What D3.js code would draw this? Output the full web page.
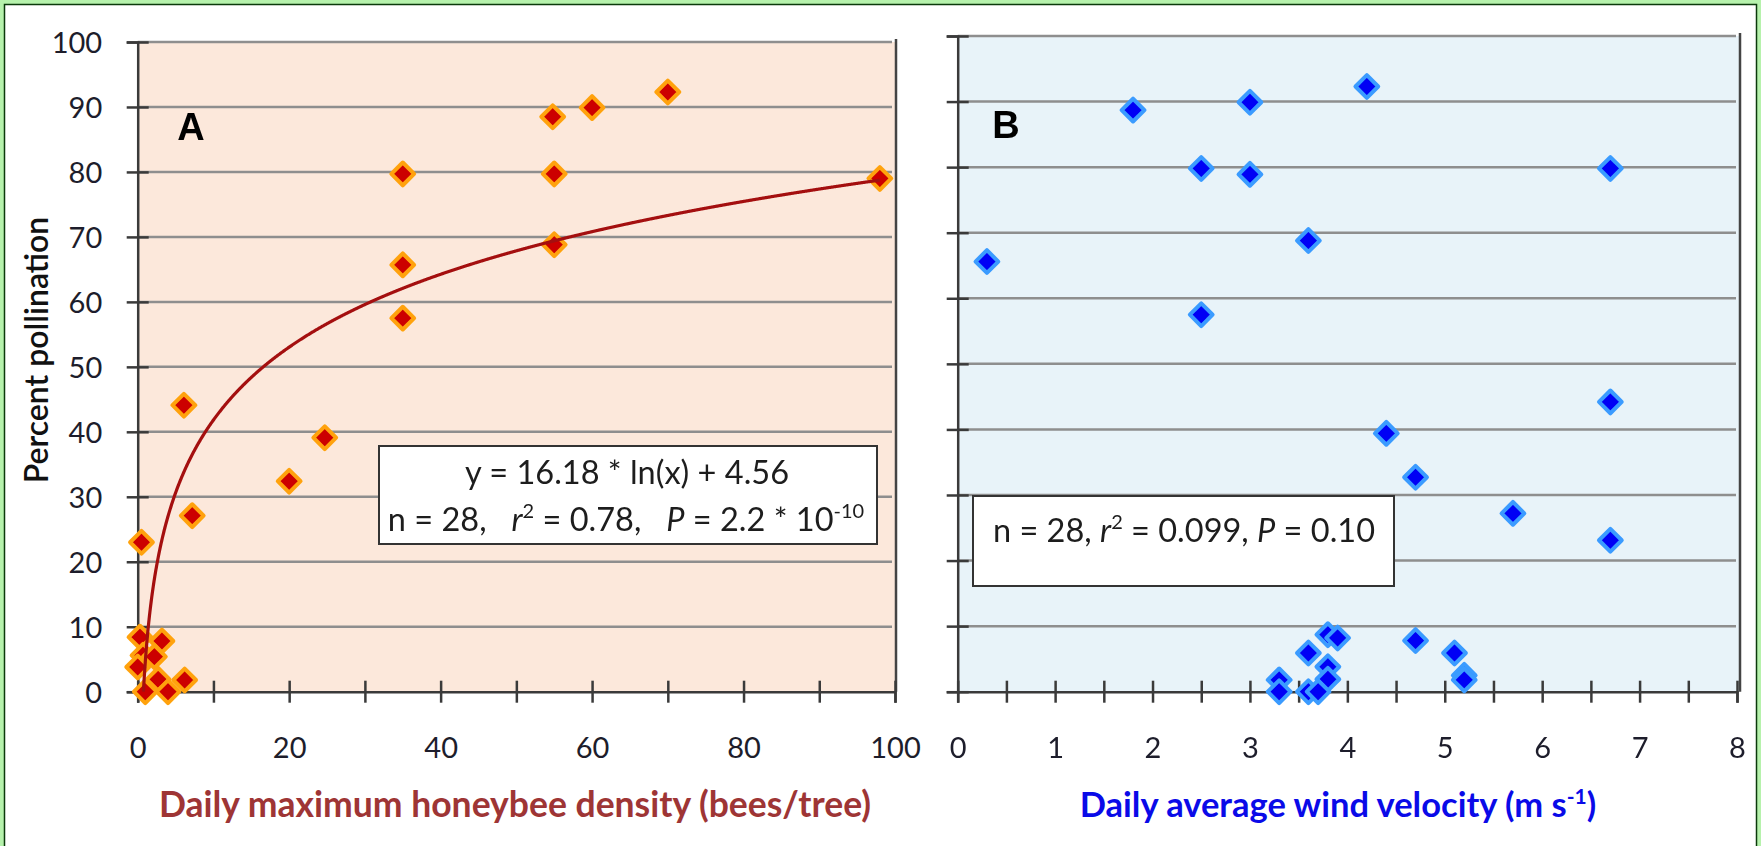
<!DOCTYPE html>
<html>
<head>
<meta charset="utf-8">
<title>Pollination vs bee density and wind</title>
<script src="https://d3js.org/d3.v7.min.js"></script>
<style>
  body { margin: 0; background: #fff; }
  text { font-family: Lato, "Open Sans", sans-serif; }
</style>
</head>
<body>
<script>
// panel A: daily max honeybee density (bees/tree) vs percent pollination
var beeDensity  = [98, 70, 60, 54.8, 55, 55, 35, 35, 35, 6.1, 24.7, 20, 7.2, 0.5,
                   0.3, 3.2, 0.7, 2.2, 0, 2.7, 6.2, 1, 4];
var pollinationA = [79, 92.3, 89.9, 88.5, 79.7, 68.8, 79.7, 65.7, 57.5, 44.1, 39.1, 32.4, 27.1, 23,
                    8.4, 7.8, 5.6, 5.4, 3.8, 1.9, 1.8, 0, 0];
// trend line printed on the chart: y = 16.18 * ln(x) + 4.56
var trendA = 16.18, trendB = 4.56;

// panel B: daily average wind velocity (m/s) vs percent pollination
var windSpeed    = [4.2, 1.8, 3.0, 2.5, 3.0, 6.7, 3.6, 0.3, 2.5, 6.7, 4.4, 4.7, 5.7, 6.7,
                    3.8, 3.9, 4.7, 3.6, 5.1, 3.8, 5.2, 5.2, 3.3, 3.8, 3.3, 3.6, 3.7];
var pollinationB = [92.3, 88.7, 89.9, 79.8, 78.9, 79.8, 68.8, 65.6, 57.5, 44.2, 39.4, 32.7, 27.2, 23.1,
                    8.7, 8.2, 7.8, 5.9, 5.9, 3.8, 2.5, 1.8, 1.8, 1.9, 0, 0, 0];

var yTicks = d3.range(0, 101, 10);
var xTicksA = d3.range(0, 101, 10);
var xTicksB = d3.range(0, 8.01, 0.5);

var W = 1761, H = 846;
var svg = d3.select("body").append("svg").attr("width", W).attr("height", H);

var defs = svg.append("defs");
defs.append("filter").attr("id", "soft").append("feGaussianBlur").attr("stdDeviation", 0.7);

// outer green frame
svg.append("rect").attr("x", 2).attr("y", 2).attr("width", W - 4).attr("height", H + 20)
  .attr("fill", "none").attr("stroke", "#b6f2ac").attr("stroke-width", 4);
svg.append("rect").attr("x", 4.5).attr("y", 4.5).attr("width", W - 9).attr("height", H + 20)
  .attr("fill", "none").attr("stroke", "#0b3a0b").attr("stroke-width", 1.5);

var yA = d3.scaleLinear().domain([0, 100]).range([691.7, 42]);
var xA = d3.scaleLinear().domain([0, 100]).range([137.7, 895]);
var yB = d3.scaleLinear().domain([0, 100]).range([691.7, 36]);
var xB = d3.scaleLinear().domain([0, 8]).range([957.7, 1737]);

function diamond(g, xs, ys, xv, yv, fill, edge) {
  var sym = d3.symbol().type(d3.symbolDiamond2).size(330);
  g.append("g").attr("filter", "url(#soft)")
    .selectAll("path.pt").data(xv).enter().append("path")
    .attr("class", "pt")
    .attr("d", sym)
    .attr("transform", function (d, i) { return "translate(" + xs(d) + "," + ys(yv[i]) + ")"; })
    .attr("fill", fill).attr("stroke", edge).attr("stroke-width", 4)
    .attr("stroke-linejoin", "round");
}

function panel(xs, ys, xticks, xfmt, showY, bg, rightEdge) {
  var g = svg.append("g");
  var x0 = xs.range()[0], y0 = ys.range()[0], yTop = ys.range()[1];
  g.append("rect").attr("x", x0).attr("y", yTop).attr("width", rightEdge - x0).attr("height", y0 - yTop)
    .attr("fill", bg);
  // gridlines
  g.selectAll("line.grid").data(yTicks.slice(1)).enter().append("line")
    .attr("x1", x0).attr("x2", rightEdge - 4)
    .attr("y1", function (d) { return ys(d); }).attr("y2", function (d) { return ys(d); })
    .attr("stroke", "#8e8e8e").attr("stroke-width", 2.5);
  // right border
  g.append("line").attr("x1", rightEdge).attr("x2", rightEdge).attr("y1", yTop - 3).attr("y2", y0)
    .attr("stroke", "#444").attr("stroke-width", 2.5);

  var ax = g.append("g").attr("transform", "translate(0," + y0 + ")")
    .call(d3.axisBottom(xs).tickValues(xticks).tickFormat(xfmt).tickSize(11));
  ax.selectAll(".tick line").attr("y1", -11).attr("y2", 11);
  ax.selectAll("text").attr("y", 66).attr("dy", null);

  var ay = g.append("g").attr("transform", "translate(" + x0 + ",0)")
    .call(d3.axisLeft(ys).tickValues(yTicks).tickSize(11)
      .tickFormat(showY ? d3.format("d") : function () { return ""; }));
  ay.selectAll(".tick line").attr("x1", -11).attr("x2", 11);
  ay.selectAll("text").attr("x", -35.5).attr("dy", "0.36em");

  g.selectAll(".domain").attr("stroke", "#3a3a3a").attr("stroke-width", 2.5);
  g.selectAll(".tick line").attr("stroke", "#3a3a3a").attr("stroke-width", 2.5);
  g.selectAll(".tick text").attr("font-size", 29).attr("fill", "#1d1d2b")
    .style("font-family", "Lato, sans-serif");
  return g;
}

var gA = panel(xA, yA, xTicksA, function (d) { return d % 20 === 0 ? d : ""; }, true, "#fce8db", 896);
var gB = panel(xB, yB, xTicksB, function (d) { return d % 1 === 0 ? d : ""; }, false, "#e8f3f9", 1740);

// panel A markers then trend line
diamond(gA, xA, yA, beeDensity, pollinationA, "#cc0000", "#ffa20a");
var trendX = d3.range(0.755, 98.01, 0.05);
gA.append("path")
  .datum(trendX)
  .attr("fill", "none").attr("stroke", "#a40f0f").attr("stroke-width", 3.2)
  .attr("d", d3.line()
    .x(function (d) { return xA(d); })
    .y(function (d) { return yA(trendA * Math.log(d) + trendB); }));

diamond(gB, xB, yB, windSpeed, pollinationB, "#0000f5", "#3a9bff");

// panel letters
svg.append("text").attr("x", 191).attr("y", 140).attr("text-anchor", "middle")
  .attr("font-size", 38).attr("font-weight", "bold").style("font-family", "Arial, sans-serif").text("A");
svg.append("text").attr("x", 1006).attr("y", 138).attr("text-anchor", "middle")
  .attr("font-size", 38).attr("font-weight", "bold").style("font-family", "Arial, sans-serif").text("B");

// stats box A
svg.append("rect").attr("x", 379).attr("y", 446).attr("width", 498).attr("height", 98)
  .attr("fill", "#fff").attr("stroke", "#333").attr("stroke-width", 2);
svg.append("text").attr("x", 627).attr("y", 484).attr("text-anchor", "middle")
  .attr("font-size", 32.5).attr("fill", "#1d1d1d").text("y = 16.18 * ln(x) + 4.56");
var t2 = svg.append("text").attr("x", 626).attr("y", 531).attr("text-anchor", "middle")
  .attr("font-size", 32.5).attr("fill", "#1d1d1d").style("white-space", "pre");
t2.append("tspan").text("n = 28,   ");
t2.append("tspan").attr("font-style", "italic").text("r");
t2.append("tspan").attr("font-size", 20).attr("dy", -13).text("2");
t2.append("tspan").attr("dy", 13).text(" = 0.78,   ");
t2.append("tspan").attr("font-style", "italic").text("P");
t2.append("tspan").text(" = 2.2 * 10");
t2.append("tspan").attr("font-size", 20).attr("dy", -13).text("-10");

// stats box B
svg.append("rect").attr("x", 973).attr("y", 496).attr("width", 421).attr("height", 90)
  .attr("fill", "#fff").attr("stroke", "#333").attr("stroke-width", 2);
var t3 = svg.append("text").attr("x", 993).attr("y", 542)
  .attr("font-size", 32.5).attr("fill", "#1d1d1d").style("white-space", "pre");
t3.append("tspan").text("n = 28, ");
t3.append("tspan").attr("font-style", "italic").text("r");
t3.append("tspan").attr("font-size", 20).attr("dy", -13).text("2");
t3.append("tspan").attr("dy", 13).text(" = 0.099, ");
t3.append("tspan").attr("font-style", "italic").text("P");
t3.append("tspan").text(" = 0.10");

// axis titles
svg.append("text").attr("transform", "translate(48,350) rotate(-90)").attr("text-anchor", "middle")
  .attr("font-size", 32).attr("font-weight", 600).attr("fill", "#111").text("Percent pollination");
svg.append("text").attr("x", 515).attr("y", 817).attr("text-anchor", "middle")
  .attr("font-size", 35.5).attr("font-weight", "bold").attr("fill", "#9e3535")
  .text("Daily maximum honeybee density (bees/tree)");
var tb = svg.append("text").attr("x", 1338).attr("y", 817).attr("text-anchor", "middle")
  .attr("font-size", 34.5).attr("font-weight", "bold").attr("fill", "#0a0ae8");
tb.append("tspan").text("Daily average wind velocity (m s");
tb.append("tspan").attr("font-size", 21).attr("dy", -13).text("-1");
tb.append("tspan").attr("dy", 13).text(")");
</script>
</body>
</html>
